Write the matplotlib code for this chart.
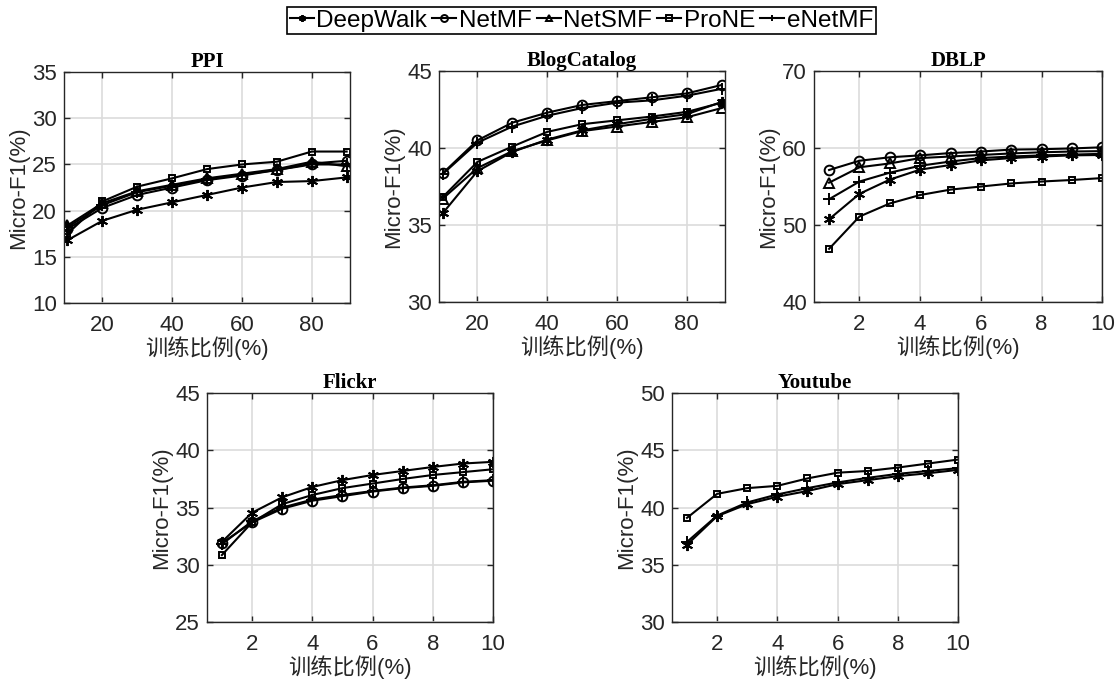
import matplotlib.pyplot as plt

plt.rcParams['font.family'] = ['Liberation Sans', 'Noto Sans CJK SC', 'DejaVu Sans']

methods = ['DeepWalk', 'NetMF', 'NetSMF', 'ProNE', 'eNetMF']
markers = {'DeepWalk': (6, 2, 0), 'NetMF': 'o', 'NetSMF': '^', 'ProNE': 's', 'eNetMF': '+'}
msizes = {'DeepWalk': 8, 'NetMF': 7, 'NetSMF': 7, 'ProNE': 5, 'eNetMF': 9}

x_big = [10, 20, 30, 40, 50, 60, 70, 80, 90]
x_small = [1, 2, 3, 4, 5, 6, 7, 8, 9, 10]

# PPI
ppi = {
    'DeepWalk': [16.8, 18.9, 20.1, 20.9, 21.7, 22.5, 23.1, 23.2, 23.6],
    'NetMF': [18.0, 20.3, 21.7, 22.5, 23.3, 23.8, 24.4, 25.1, 25.4],
    'NetSMF': [18.4, 20.8, 22.1, 22.8, 23.5, 24.0, 24.5, 25.3, 24.8],
    'ProNE': [17.5, 21.0, 22.6, 23.5, 24.5, 25.0, 25.3, 26.4, 26.4],
    'eNetMF': [18.2, 20.6, 22.0, 22.7, 23.4, 23.9, 24.4, 25.0, 25.0],
}
# BlogCatalog
blog = {
    'DeepWalk': [35.75, 38.5, 39.75, 40.55, 41.15, 41.55, 41.9, 42.2, 43.0],
    'NetMF': [38.35, 40.5, 41.65, 42.3, 42.8, 43.05, 43.3, 43.55, 44.1],
    'NetSMF': [36.7, 38.7, 39.8, 40.5, 41.1, 41.4, 41.7, 42.0, 42.6],
    'ProNE': [36.8, 39.1, 40.1, 41.05, 41.55, 41.8, 42.05, 42.35, 42.95],
    'eNetMF': [38.3, 40.35, 41.4, 42.1, 42.6, 42.95, 43.1, 43.4, 43.85],
}
# DBLP
dblp = {
    'DeepWalk': [50.75, 54.05, 55.9, 57.2, 57.8, 58.4, 58.7, 58.9, 59.05, 59.1],
    'NetMF': [57.15, 58.35, 58.8, 59.05, 59.35, 59.55, 59.8, 59.85, 59.95, 60.1],
    'NetSMF': [55.5, 57.5, 58.0, 58.7, 58.9, 59.1, 59.3, 59.45, 59.55, 59.6],
    'ProNE': [46.9, 51.1, 52.8, 53.9, 54.6, 55.0, 55.4, 55.65, 55.85, 56.1],
    'eNetMF': [53.35, 55.65, 56.8, 57.7, 58.25, 58.7, 58.9, 59.05, 59.15, 59.25],
}
# Flickr
flickr = {
    'DeepWalk': [32.0, 34.55, 35.9, 36.8, 37.4, 37.85, 38.2, 38.55, 38.85, 39.0],
    'NetMF': [31.9, 33.7, 34.9, 35.6, 36.0, 36.4, 36.7, 36.9, 37.2, 37.35],
    'ProNE': [30.85, 33.7, 35.3, 36.1, 36.7, 37.1, 37.5, 37.85, 38.1, 38.35],
    'eNetMF': [31.8, 33.8, 35.0, 35.7, 36.1, 36.45, 36.75, 36.95, 37.25, 37.4],
}
# Youtube
youtube = {
    'DeepWalk': [36.75, 39.25, 40.3, 40.95, 41.45, 42.05, 42.4, 42.75, 43.0, 43.3],
    'ProNE': [39.1, 41.2, 41.7, 41.9, 42.55, 43.05, 43.2, 43.5, 43.85, 44.2],
    'eNetMF': [37.0, 39.3, 40.45, 41.15, 41.7, 42.2, 42.6, 42.95, 43.2, 43.45],
}

panels = [
    ('PPI', x_big, ppi, (10, 35), [10, 15, 20, 25, 30, 35], (9, 91), [20, 40, 60, 80],
     [0.0572, 0.5577, 0.256, 0.337]),
    ('BlogCatalog', x_big, blog, (30, 45), [30, 35, 40, 45], (9, 91), [20, 40, 60, 80],
     [0.3927, 0.5592, 0.256, 0.337]),
    ('DBLP', x_small, dblp, (40, 70), [40, 50, 60, 70], (0.5, 10), [2, 4, 6, 8, 10],
     [0.728, 0.5592, 0.258, 0.337]),
    ('Flickr', x_small, flickr, (25, 45), [25, 30, 35, 40, 45], (0.5, 10), [2, 4, 6, 8, 10],
     [0.185, 0.092, 0.256, 0.334]),
    ('Youtube', x_small, youtube, (30, 50), [30, 35, 40, 45, 50], (0.5, 10), [2, 4, 6, 8, 10],
     [0.601, 0.092, 0.256, 0.334]),
]

fig = plt.figure(figsize=(11.18, 6.85), dpi=100)

handles = {}
for title, xs, data, ylim, yticks, xlim, xticks, rect in panels:
    ax = fig.add_axes(rect)
    for m in methods:
        if m not in data:
            continue
        ln, = ax.plot(xs, data[m], color='k', linewidth=1.5, marker=markers[m],
                      markersize=msizes[m], markerfacecolor='none', markeredgewidth=1.4,
                      label=m)
        handles[m] = ln
    ax.set_xlim(*xlim)
    ax.set_ylim(*ylim)
    ax.set_xticks(xticks)
    ax.set_yticks(yticks)
    ax.grid(True, color='#dcdcdc', linewidth=1.2)
    ax.set_axisbelow(True)
    ax.tick_params(direction='in', top=True, right=True, labelsize=16, length=4,
                   width=1, colors='#262626')
    ax.tick_params(axis='x', pad=9)
    ax.tick_params(axis='y', pad=5)
    for s in ax.spines.values():
        s.set_color('#262626')
        s.set_linewidth(1.0)
    ax.set_title(title, fontsize=15, family=['Liberation Serif'], fontweight='bold', pad=4)
    ax.set_ylabel('Micro-F1(%)', fontsize=16, color='#262626', labelpad=2)
    ax.set_xlabel('训练比例(%)', fontsize=16, color='#262626', labelpad=0)

leg = fig.legend([handles[m] for m in methods], methods, loc='center', ncol=5,
                 bbox_to_anchor=(0.52, 0.970), fontsize=17.5, handlelength=1.0,
                 handletextpad=0.1, columnspacing=0.2, borderpad=0.12,
                 fancybox=False, edgecolor='k', framealpha=1, borderaxespad=0)
leg.get_frame().set_linewidth(1.2)
for h in leg.legend_handles:
    h.set_markersize(5)

fig.savefig('out.png', dpi=100)
